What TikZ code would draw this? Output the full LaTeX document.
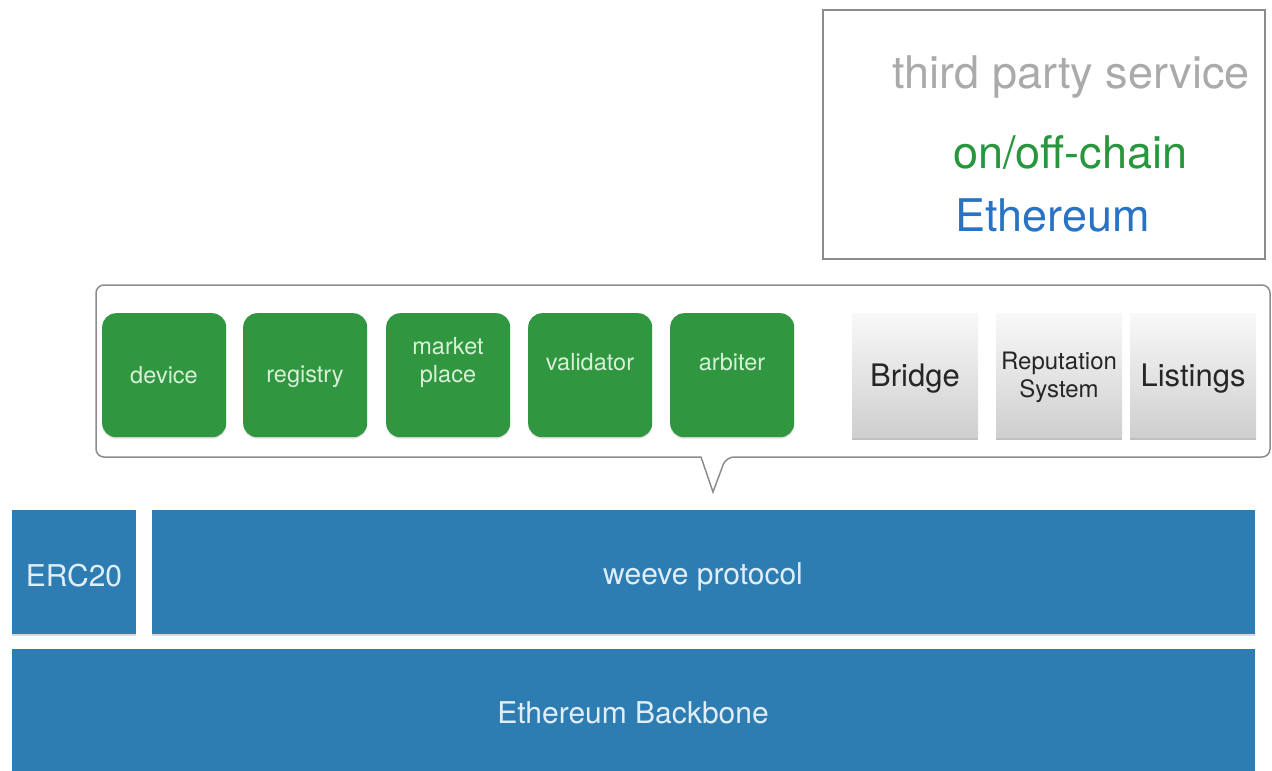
\documentclass[tikz,border=0pt]{standalone}
\usepackage{fontspec}
\setmainfont{TeX Gyre Heros}
\usetikzlibrary{shadows}
\definecolor{gbox}{RGB}{48,150,64}
\definecolor{gtext}{RGB}{215,240,215}
\definecolor{bbox}{RGB}{46,125,178}
\definecolor{btext}{RGB}{225,238,248}
\definecolor{lgray}{RGB}{170,170,170}
\definecolor{lgreen}{RGB}{40,150,60}
\definecolor{lblue}{RGB}{40,115,195}
\definecolor{frame}{RGB}{140,140,140}
\tikzset{
  greenbox/.style={draw=none, fill=gbox, rounded corners=14pt, minimum width=124pt, minimum height=124pt, anchor=north west, inner sep=0pt, drop shadow={shadow xshift=0pt, shadow yshift=-1.5pt, opacity=0.25}},
  greentext/.style={text=gtext, font=\fontsize{23.5}{28}\selectfont, align=center, inner sep=0pt},
  graybox/.style={draw=none, top color=gray!5, bottom color=gray!38, minimum width=126pt, minimum height=124pt, anchor=north west, inner sep=0pt, drop shadow={shadow xshift=0pt, shadow yshift=-2.5pt, opacity=0.5}},
  graytext/.style={text=black!85, align=center, inner sep=0pt},
  bluebox/.style={draw=none, fill=bbox, anchor=north west, inner sep=0pt, drop shadow={shadow xshift=0pt, shadow yshift=-1.5pt, opacity=0.3}},
  bluetext/.style={text=btext, font=\fontsize{30}{34}\selectfont, inner sep=0pt},
  legendtext/.style={font=\fontsize{45}{50}\selectfont, inner sep=0pt},
}
\begin{document}
\begin{tikzpicture}[x=1pt,y=-1pt]
\useasboundingbox (0,0) rectangle (1272,771);
% legend
\node[draw=frame, line width=1.5pt, minimum width=442pt, minimum height=249pt, anchor=north west, inner sep=0pt] (legend) at (822,9) {};
\node[legendtext, anchor=base east, text=lgray] (tps) at (1250,88) {third party service};
\node[legendtext, anchor=base west, text=lgreen] (onoff) at (953,168) {on/off-chain};
\node[legendtext, anchor=base west, text=lblue] (eth) at (955,231) {Ethereum};
% callout
\draw[draw=frame, line width=1.5pt, rounded corners=8pt] (96,285) -- (1270,285) -- (1270,457) -- (726,457) [sharp corners] -- (713,492) -- (701,457) [rounded corners=8pt] -- (96,457) -- cycle;
% green boxes
\node[greenbox] (device) at (102,313) {};
\node[greenbox] (registry) at (243,313) {};
\node[greenbox] (market) at (386,313) {};
\node[greenbox] (validator) at (528,313) {};
\node[greenbox] (arbiter) at (670,313) {};
\node[greentext] (device-t) at (164,375) {device};
\node[greentext] (registry-t) at (305,377) {registry};
\node[greentext] (market-t) at (448,362) {market\\place};
\node[greentext] (validator-t) at (590,362) {validator};
\node[greentext] (arbiter-t) at (732,362) {arbiter};
% gray boxes
\node[graybox] (bridge) at (852,313) {};
\node[graybox] (rep) at (996,313) {};
\node[graybox] (listings) at (1130,313) {};
\node[graytext, font=\fontsize{31}{35}\selectfont] (bridge-t) at (915,379) {Bridge};
\node[graytext, font=\fontsize{24}{28}\selectfont] (rep-t) at (1059,377) {Reputation\\System};
\node[graytext, font=\fontsize{31}{35}\selectfont] (listings-t) at (1193,379) {Listings};
% blue layers
\node[bluebox, minimum width=124pt, minimum height=124pt] (erc) at (12,510) {};
\node[bluebox, minimum width=1103pt, minimum height=124pt] (weeve) at (152,510) {};
\node[bluebox, minimum width=1243pt, minimum height=125pt] (backbone) at (12,649) {};
\node[bluetext] (erc-t) at (74,576) {ERC20};
\node[bluetext] (weeve-t) at (703,577) {weeve protocol};
\node[bluetext] (backbone-t) at (633,713) {Ethereum Backbone};
\end{tikzpicture}
\end{document}
